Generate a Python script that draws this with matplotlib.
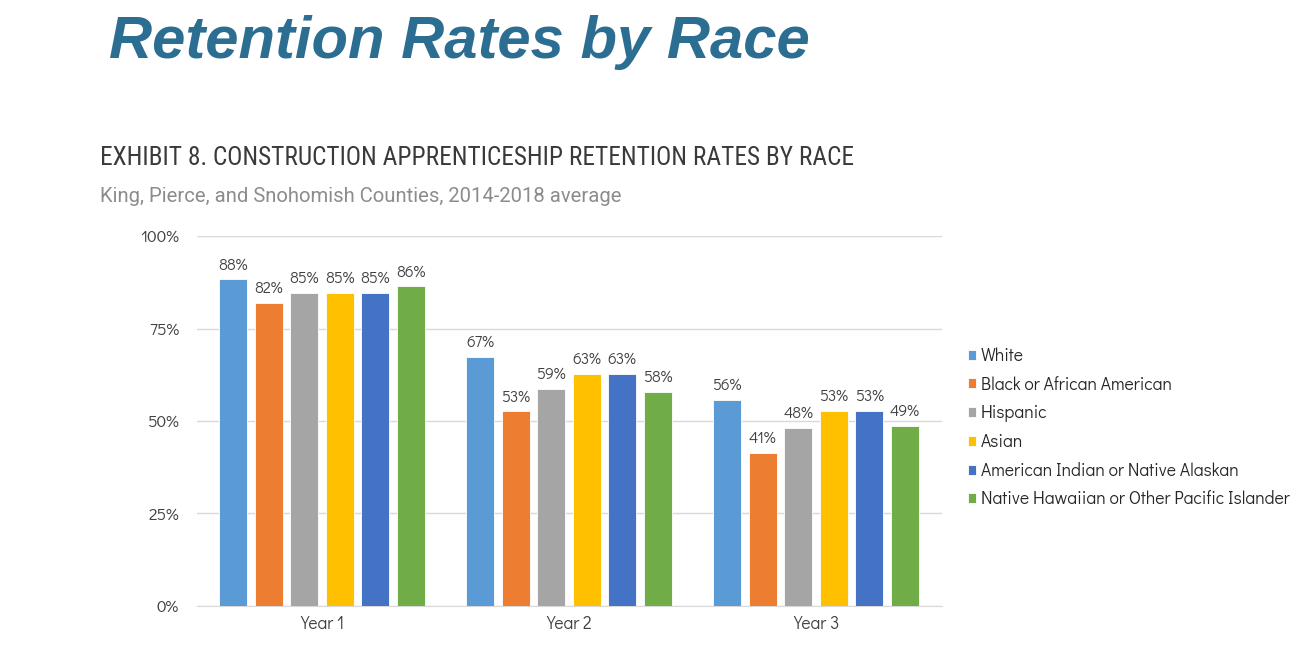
import matplotlib
matplotlib.use("Agg")
import matplotlib.pyplot as plt
import numpy as np

years = ["Year 1", "Year 2", "Year 3"]
races = ["White", "Black or African American", "Hispanic", "Asian",
         "American Indian or Native Alaskan", "Native Hawaiian or Other Pacific Islander"]
white = [88.3, 67.3, 55.7]
black = [81.9, 52.6, 41.3]
hispanic = [84.7, 58.7, 48.1]
asian = [84.6, 62.7, 52.8]
amind = [84.6, 62.7, 52.8]
nhpi = [86.4, 57.8, 48.7]
series = [white, black, hispanic, asian, amind, nhpi]
colors = ["#5B9BD5", "#ED7D31", "#A5A5A5", "#FFC000", "#4472C4", "#70AD47"]
yticks = [0, 25, 50, 75, 100]

gothic = ["Didact Gothic", "Questrial", "DejaVu Sans"]
narrow = ["Roboto Condensed", "DejaVu Sans"]
sub_font = ["Roboto", "DejaVu Sans"]

fig = plt.figure(figsize=(13.14, 6.47), dpi=100)
ax = fig.add_axes([0.1499, 0.0634, 0.567, 0.5718])

x = np.arange(len(years))
step = 0.1437
width = 0.113
for i, (vals, c, name) in enumerate(zip(series, colors, races)):
    pos = x + (i - 2.5) * step
    bars = ax.bar(pos, vals, width=width, color=c, label=name, zorder=3,
                  edgecolor="white", linewidth=0.6)
    for b, v in zip(bars, vals):
        ax.annotate(f"{round(v):d}%", (b.get_x() + b.get_width() / 2, v),
                    xytext=(0, 5), textcoords="offset points", ha="center",
                    va="bottom", fontsize=11.5, color="#404040", family=gothic)

ax.set_xlim(-0.506, 2.51)
ax.set_ylim(0, 100)
ax.set_yticks(yticks)
ax.set_yticklabels([f"{t}%" for t in yticks], family=gothic, fontsize=12.3, color="#404040")
ax.set_xticks(x)
ax.set_xticklabels(years, family=gothic, fontsize=12.5, color="#404040")
ax.tick_params(axis="both", length=0)
ax.tick_params(axis="y", pad=13)
ax.tick_params(axis="x", pad=7)
ax.grid(axis="y", color="#D9D9D9", linewidth=1, zorder=0)
for s in ["top", "right", "left"]:
    ax.spines[s].set_visible(False)
ax.spines["bottom"].set_color("#D9D9D9")

leg = ax.legend(loc="center left", bbox_to_anchor=(0.7245, 1 - 428 / 647), bbox_transform=fig.transFigure,
                frameon=False, handlelength=0.5, handleheight=0.5, handletextpad=0.25,
                labelspacing=0.64, prop={"family": gothic, "size": 12.6})
for t in leg.get_texts():
    t.set_color("#262626")

fig.text(0.083, 1 - 42 / 647, "Retention Rates by Race", family="Liberation Sans",
         weight="bold", style="italic", fontsize=43, color="#2C6E91", va="center", ha="left")
fig.text(100 / 1314, 1 - 158 / 647, "EXHIBIT 8. CONSTRUCTION APPRENTICESHIP RETENTION RATES BY RACE",
         family=narrow, fontsize=18.3, color="#3A3A3A",
         va="center", ha="left")
fig.text(100 / 1314, 1 - 197 / 647, "King, Pierce, and Snohomish Counties, 2014-2018 average",
         family=sub_font, fontsize=14.6, color="#8C8C8C",
         va="center", ha="left")

fig.savefig("out.png", dpi=100)
